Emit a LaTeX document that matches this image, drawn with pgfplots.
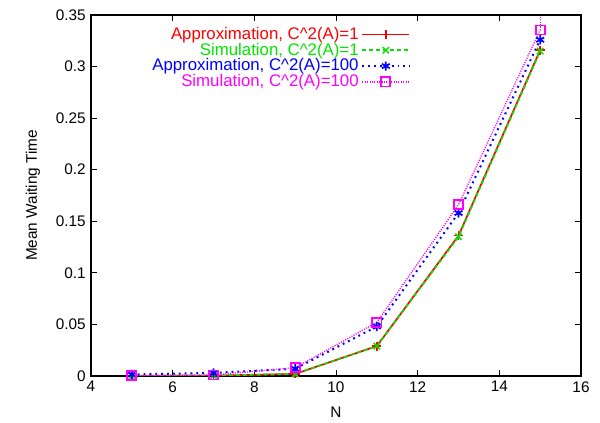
\documentclass[border=0pt]{standalone}
\usepackage{pgfplots}
\pgfplotsset{compat=1.18}
\usepackage{fontspec}
\setmainfont{Liberation Sans}
\definecolor{gpred}{RGB}{255,0,0}
\definecolor{gpgreen}{RGB}{0,230,0}
\definecolor{gpblue}{RGB}{0,0,255}
\definecolor{gpmag}{RGB}{255,0,255}
\begin{document}
\fontsize{11.5}{13}\selectfont
\begin{tikzpicture}
\useasboundingbox (-68.25pt,-35.25pt) rectangle (381.75pt,282pt);
\begin{axis}[
  at={(0,0)}, anchor=south west,
  scale only axis, width=367.5pt, height=270.75pt,
  xmin=4, xmax=16, ymin=0, ymax=0.35,
  xtick={4,6,...,16},
  ytick={0,0.05,0.1,0.15,0.2,0.25,0.3,0.35},
  scaled y ticks=false,
  tick label style={font=\fontsize{11.5}{13}\selectfont},
  label style={font=\fontsize{11}{13}\selectfont},
  yticklabel style={/pgf/number format/fixed,/pgf/number format/precision=2},
  /pgf/number format/assume math mode=true,
  tick align=inside, major tick length=4.5pt,
  tick style={black, line width=0.6pt},
  axis line style={line width=0.8pt},
  xlabel={N}, ylabel={Mean Waiting Time},
  every axis x label/.style={at={(ticklabel cs:0.5)}, anchor=north, yshift=-3pt},
  every axis y label/.style={at={(ticklabel cs:0.5)}, anchor=south, rotate=90, yshift=4pt},
  legend plot pos=right,
  legend cell align=right,
  legend style={at={(0.655,0.978)}, anchor=north east, draw=none, fill=none,
    font=\fontsize{12.6}{14}\selectfont, row sep=-3pt, inner sep=1pt},
  legend image code/.code={\draw[mark repeat=2,mark phase=2] plot coordinates {(0cm,0cm) (0.62cm,0cm) (1.24cm,0cm)};},
]
\addplot[gpred, line width=1.3pt, mark=+, mark size=3.4pt, mark options={solid, line width=1.1pt}]
  coordinates {(5,0.0) (7,0.0003) (9,0.002) (11,0.029) (13,0.136) (15,0.316)};
\addlegendentry{\textcolor{gpred}{Approximation, C\textasciicircum2(A)=1}}
\addplot[gpgreen, line width=1.3pt, dash pattern=on 3pt off 2.2pt, mark=x, mark size=3.4pt, mark options={solid, line width=1.1pt}]
  coordinates {(5,0.0) (7,0.0003) (9,0.002) (11,0.029) (13,0.135) (15,0.315)};
\addlegendentry{\textcolor{gpgreen}{Simulation, C\textasciicircum2(A)=1}}
\addplot[gpblue, line width=1.5pt, dash pattern=on 1.4pt off 3pt, mark=asterisk, mark size=3.4pt, mark options={solid, line width=1.3pt}]
  coordinates {(5,0.0015) (7,0.003) (9,0.007) (11,0.048) (13,0.158) (15,0.326)};
\addlegendentry{\textcolor{gpblue}{Approximation, C\textasciicircum2(A)=100}}
\addplot[gpmag, line width=1pt, dash pattern=on 0.8pt off 1pt, mark=square, mark size=3.4pt, mark options={solid, line width=1.3pt},
  error bars/.cd, y dir=plus, y explicit, error mark=none, error bar style={gpmag, line width=1pt, dash pattern=on 0.8pt off 1pt}]
  coordinates {(5,0.0005) +- (0,0) (7,0.001) +- (0,0) (9,0.008) +- (0,0) (11,0.052) +- (0,0) (13,0.166) +- (0,0) (15,0.3355) +- (0,0.013)};
\addlegendentry{\textcolor{gpmag}{Simulation, C\textasciicircum2(A)=100}}
\end{axis}
\end{tikzpicture}
\end{document}
